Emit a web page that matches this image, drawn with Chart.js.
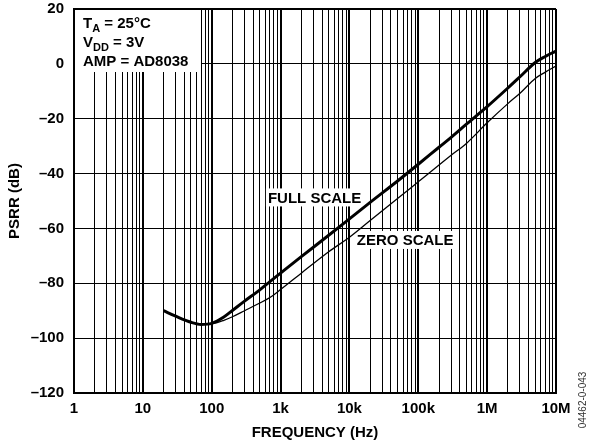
<!DOCTYPE html>
<html>
<head>
<meta charset="utf-8">
<script src="https://cdn.jsdelivr.net/npm/chart.js@4/dist/chart.umd.min.js"></script>
<style>
  html, body { margin: 0; padding: 0; background: #fff; }
  #wrap { width: 589px; height: 446px; }
</style>
</head>
<body>
<div id="wrap"><canvas id="psrr" width="589" height="446"></canvas></div>
<script>
// PSRR vs frequency, AD8038 output amp, full-scale and zero-scale codes
const freqHz = [20, 30, 50, 70, 100, 150, 200, 300, 500, 700, 1e3, 2e3, 5e3, 1e4, 2e4, 5e4,
  1e5, 2e5, 3e5, 5e5, 1e6, 2e6, 3e6, 5e6, 7e6, 1e7];
const fullScaleDb = [-90, -92, -94.2, -95, -94.6, -92.3, -89.9, -86.5, -82.4, -79.4, -76.3,
  -70.3, -62.5, -56.5, -50.5, -42.7, -36.6, -30.4, -26.8, -22, -15.6, -8.8, -4.7, 0.5, 2.7, 4.7];
const zeroScaleDb = [-90, -92, -94.2, -95, -94.8, -93.5, -92.2, -90, -87.2, -85.2, -82.3,
  -76.3, -68.5, -63.2, -57.1, -49.1, -43, -36.9, -33.3, -29, -21.5, -14.5, -10.7, -5.3, -3, -0.8];

const xTickValues = [1, 10, 100, 1e3, 1e4, 1e5, 1e6, 1e7];
const xTickLabels = ['1', '10', '100', '1k', '10k', '100k', '1M', '10M'];
const yTickValues = [-120, -100, -80, -60, -40, -20, 0, 20];

const FONT = '"Liberation Sans", Arial, Helvetica, sans-serif';

// 1..9 per decade for the log grid
const logGrid = [];
for (let e = 0; e < 7; e++) {
  for (let m = 1; m <= 9; m++) logGrid.push(m * Math.pow(10, e));
}
logGrid.push(1e7);

function isDecade(v) {
  const l = Math.log10(v);
  return Math.abs(l - Math.round(l)) < 1e-9;
}

function toPoints(ys) {
  return freqHz.map((f, i) => ({ x: f, y: ys[i] }));
}

// text drawn on top of the grid: condition box, curve names, figure id
const notes = {
  id: 'notes',
  beforeDatasetsDraw(chart) {
    const { ctx, chartArea: a, scales: { x, y } } = chart;
    ctx.save();
    ctx.fillStyle = '#fff';
    ctx.fillRect(a.left + 1, a.top + 1, 126, 62);

    ctx.fillStyle = '#000';
    ctx.textBaseline = 'alphabetic';
    ctx.textAlign = 'left';
    const big = 'bold 15px ' + FONT;
    const small = 'bold 11px ' + FONT;
    const left = a.left + 9;
    const lines = [
      ['T', 'A', ' = 25\u00B0C'],
      ['V', 'DD', ' = 3V'],
      ['AMP = AD8038', '', '']
    ];
    const base = [a.top + 19, a.top + 38, a.top + 56.5];
    lines.forEach((ln, i) => {
      let cx = left;
      ctx.font = big;
      ctx.fillText(ln[0], cx, base[i]);
      cx += ctx.measureText(ln[0]).width;
      if (ln[1]) {
        ctx.font = small;
        ctx.fillText(ln[1], cx, base[i] + 4);
        cx += ctx.measureText(ln[1]).width;
        ctx.font = big;
        ctx.fillText(ln[2], cx, base[i]);
      }
    });

    // curve names with white backing
    ctx.font = big;
    ctx.textBaseline = 'middle';
    [['FULL SCALE', 655, -48.7], ['ZERO SCALE', 12800, -64.2]].forEach(([t, f, db]) => {
      const px = x.getPixelForValue(f);
      const py = y.getPixelForValue(db);
      const w = ctx.measureText(t).width;
      ctx.fillStyle = '#fff';
      ctx.fillRect(px - 2, py - 9, w + 4, 18);
      ctx.fillStyle = '#000';
      ctx.fillText(t, px, py + 1);
    });
    ctx.restore();
  },
  afterDraw(chart) {
    const { ctx } = chart;
    ctx.save();
    ctx.translate(583, 400);
    ctx.rotate(-Math.PI / 2);
    ctx.font = '10px ' + FONT;
    ctx.fillStyle = '#333';
    ctx.textAlign = 'center';
    ctx.textBaseline = 'middle';
    ctx.fillText('04462-0-043', 0, 0);
    ctx.restore();
  }
};

new Chart(document.getElementById('psrr'), {
  type: 'line',
  data: {
    datasets: [
      {
        label: 'FULL SCALE',
        data: toPoints(fullScaleDb),
        borderColor: '#000',
        borderWidth: 3,
        pointRadius: 0,
        cubicInterpolationMode: 'monotone',
        fill: false
      },
      {
        label: 'ZERO SCALE',
        data: toPoints(zeroScaleDb),
        borderColor: '#000',
        borderWidth: 1.3,
        pointRadius: 0,
        cubicInterpolationMode: 'monotone',
        fill: false
      }
    ]
  },
  options: {
    responsive: false,
    animation: false,
    layout: { padding: { top: 9, right: 33, left: 0, bottom: 0 } },
    plugins: {
      legend: { display: false },
      tooltip: { enabled: false }
    },
    scales: {
      x: {
        type: 'logarithmic',
        min: 1,
        max: 1e7,
        afterBuildTicks: axis => { axis.ticks = logGrid.map(v => ({ value: v })); },
        afterFit: axis => { axis.height = 53; },
        ticks: {
          autoSkip: false,
          maxRotation: 0,
          color: '#000',
          padding: 7,
          font: { family: FONT, size: 15, weight: 'bold' },
          callback: v => {
            const i = xTickValues.findIndex(t => Math.abs(t - v) < 1e-6 * t);
            return i >= 0 ? xTickLabels[i] : '';
          }
        },
        grid: {
          color: '#000',
          drawTicks: false,
          lineWidth: c => (c.tick && isDecade(c.tick.value) ? 2 : 1)
        },
        border: { color: '#000', width: 2 },
        title: {
          display: true,
          text: 'FREQUENCY (Hz)',
          color: '#000',
          font: { family: FONT, size: 15, weight: 'bold' },
          padding: { top: 0, bottom: 4 }
        }
      },
      y: {
        min: -120,
        max: 20,
        afterBuildTicks: axis => { axis.ticks = yTickValues.map(v => ({ value: v })); },
        afterFit: axis => {
          axis.width = 74;
          axis.paddingTop = 0;
          axis.paddingBottom = 0;
        },
        ticks: {
          color: '#000',
          padding: 10,
          font: { family: FONT, size: 15, weight: 'bold' },
          callback: v => (v < 0 ? '\u2013' + Math.abs(v) : String(v))
        },
        grid: {
          color: '#000',
          drawTicks: false,
          lineWidth: c => (c.tick && c.tick.value === 20 ? 2 : 1)
        },
        border: { color: '#000', width: 2 },
        title: {
          display: true,
          text: 'PSRR (dB)',
          color: '#000',
          font: { family: FONT, size: 15, weight: 'bold' },
          padding: { top: 6, bottom: 0 }
        }
      }
    }
  },
  plugins: [notes]
});
</script>
</body>
</html>
